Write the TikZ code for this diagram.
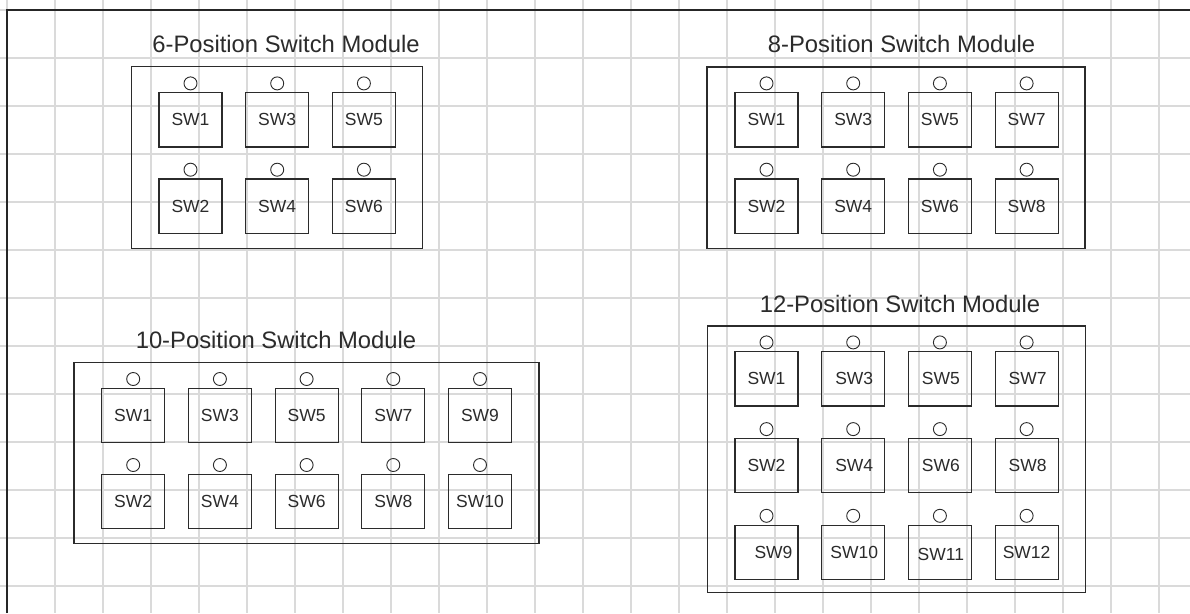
\documentclass[tikz,border=0pt]{standalone}
\usepackage{fontspec}
\setmainfont{Liberation Sans}
\usetikzlibrary{calc}
\definecolor{ink}{HTML}{2B2B2B}
\definecolor{gridc}{HTML}{DADADA}
\begin{document}
\begin{tikzpicture}[x=1pt,y=-1pt,
  gridline/.style={draw=gridc,line width=1.4pt},
  frame/.style={draw=black!85,line width=1.3pt},
  modrect/.style={draw=ink,line width=1.2pt,inner sep=0pt,outer sep=0pt,anchor=north west},
  swbox/.style={draw=ink,line width=1.2pt,minimum width=63pt,minimum height=54.3pt,inner sep=0pt,outer sep=0pt,anchor=north west},
  swlabel/.style={text=ink,font=\fontsize{17.5}{20}\selectfont,inner sep=0pt},
  led/.style={circle,draw=ink,line width=0.9pt,minimum size=13pt,inner sep=0pt},
  modtitle/.style={text=ink,font=\fontsize{23.8}{28}\selectfont,anchor=base,inner sep=0pt}]

\useasboundingbox (0,0) rectangle (1190,613);
\fill[white] (0,0) rectangle (1190,613);
\foreach \k in {0,...,24} \draw[gridline] (7+48*\k,0) -- (7+48*\k,613);
\foreach \k in {0,...,12} \draw[gridline] (0,10+48*\k) -- (1190,10+48*\k);
\draw[frame] (7,613) -- (7,10) -- (1190,10);

% ---------- 6-position module ----------
\node[modrect,minimum width=290.8pt,minimum height=181.6pt] (mod6) at (131.7,66.7) {};
\node[modtitle] (title6) at (286,52.5) {6-Position Switch Module};
\foreach \c/\r/\l in {0/0/1,0/1/2,1/0/3,1/1/4,2/0/5,2/1/6}{
  \node[swbox] (m6b\l) at (159+86.7*\c,92.7+86.3*\r) {};
  \node[led] (m6l\l) at ($(m6b\l.north)+(0,-9.3)$) {};
  \node[swlabel] (m6t\l) at (m6b\l.center) {SW\l};
}

% ---------- 8-position module ----------
\node[modrect,minimum width=378pt,minimum height=181.3pt] (mod8) at (707,67) {};
\node[modtitle] (title8) at (901.5,52.7) {8-Position Switch Module};
\foreach \c/\r/\l in {0/0/1,0/1/2,1/0/3,1/1/4,2/0/5,2/1/6,3/0/7,3/1/8}{
  \node[swbox] (m8b\l) at (735+86.7*\c,92.7+86.3*\r) {};
  \node[led] (m8l\l) at ($(m8b\l.north)+(0,-9.3)$) {};
  \node[swlabel] (m8t\l) at (m8b\l.center) {SW\l};
}

% ---------- 10-position module ----------
\node[modrect,minimum width=465pt,minimum height=181pt] (mod10) at (74,362.3) {};
\node[modtitle] (title10) at (276,348.3) {10-Position Switch Module};
\foreach \c/\r/\l in {0/0/1,0/1/2,1/0/3,1/1/4,2/0/5,2/1/6,3/0/7,3/1/8,4/0/9,4/1/10}{
  \node[swbox] (m10b\l) at (101.7+86.7*\c,388.3+86*\r) {};
  \node[led] (m10l\l) at ($(m10b\l.north)+(0,-9.3)$) {};
  \node[swlabel] (m10t\l) at (m10b\l.center) {SW\l};
}

% ---------- 12-position module ----------
\node[modrect,minimum width=378pt,minimum height=266.3pt] (mod12) at (707.3,326) {};
\node[modtitle] (title12) at (900,312.3) {12-Position Switch Module};
\foreach \c/\r/\l/\dx/\dy in {0/0/1/0/0,0/1/2/0/0,0/2/9/7/0,1/0/3/1/0,1/1/4/1/0,1/2/10/1/0,
  2/0/5/1/0,2/1/6/1/0,2/2/11/1/2,3/0/7/1/0,3/1/8/1/0,3/2/12/0/0}{
  \node[swbox] (m12b\l) at (735+86.7*\c,351.7+86.7*\r) {};
  \node[led] (m12l\l) at ($(m12b\l.north)+(0,-9.3)$) {};
  \node[swlabel] (m12t\l) at ($(m12b\l.center)+(\dx,\dy)$) {SW\l};
}
\end{tikzpicture}
\end{document}
